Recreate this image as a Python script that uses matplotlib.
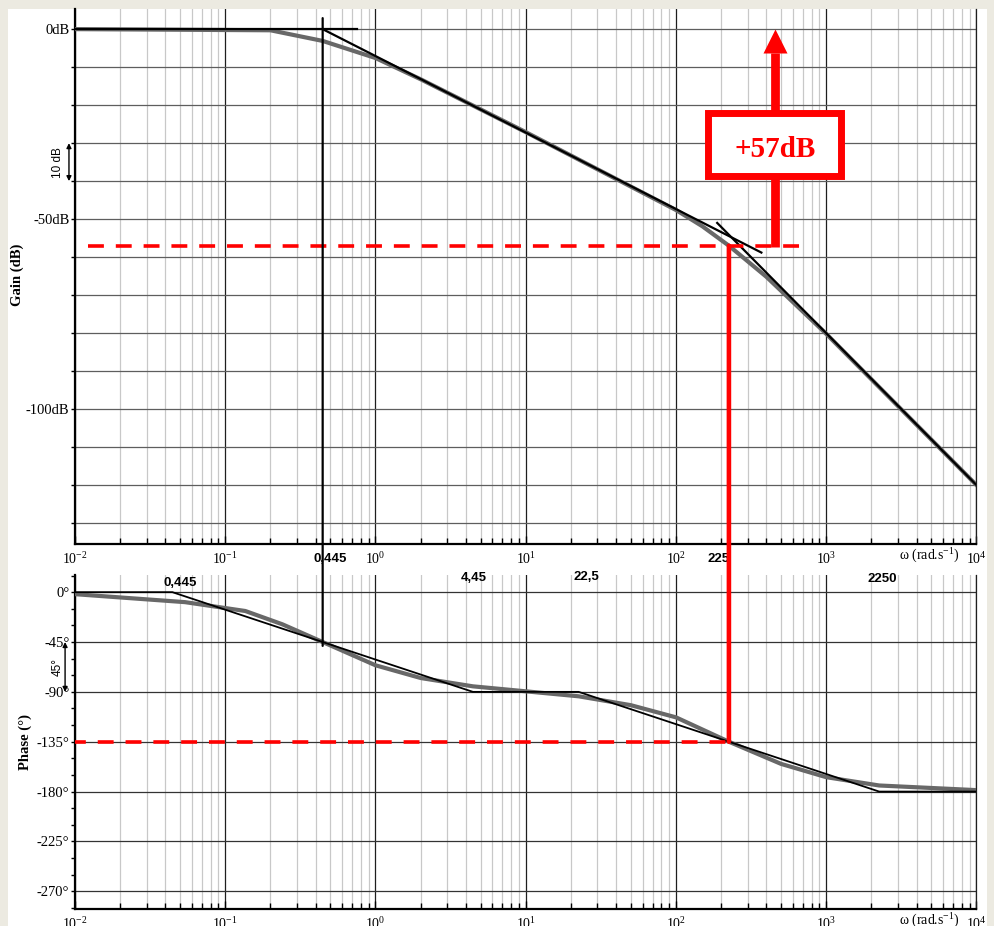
"""Bode plot (gain + phase) of a two-pole system with asymptotes and the
+57 dB gain correction needed at the -135 deg crossover."""
import numpy as np
import matplotlib
matplotlib.use("Agg")
import matplotlib.pyplot as plt
from matplotlib.patches import Rectangle, ConnectionPatch
from matplotlib.ticker import (LogLocator, NullFormatter, MultipleLocator,
                               FixedLocator, FuncFormatter)

plt.rcParams.update({
    "font.family": "Liberation Serif",
    "mathtext.fontset": "custom",
    "mathtext.rm": "Liberation Serif",
    "mathtext.it": "Liberation Serif:italic",
    "mathtext.default": "regular",
})

# real gain curve (rad/s, dB)
W_GAIN = [0.01, 0.2, 0.445, 1, 2, 10, 100, 150, 225, 400, 1000, 10000]
GAIN_DB = [0, -0.3, -3.1, -7.6, -13.2, -27.1, -47.6, -51.9, -57, -65.2, -80.2, -120]

# gain asymptote segments (each drawn a bit past its corner)
GAIN_ASYM_W = [[0.01, 0.755], [0.445, 370], [188, 10000]]
GAIN_ASYM_DB = [[0, 0], [0, -58.8], [-51.0, -120.0]]

# real phase curve (rad/s, deg)
W_PHASE = [0.01, 0.054, 0.136, 0.24, 0.445, 1, 2, 4.45, 10, 22.5, 50, 100,
           225, 500, 1000, 2250, 10000]
PHASE_DEG = [-1.8, -9, -17, -29, -45, -66, -77.5, -85, -89.5, -94, -102, -113,
             -135, -155, -167, -174.5, -178.7]

# phase asymptote
PH_ASYM_W = [0.01, 0.0445, 4.45, 22.5, 2250, 10000]
PH_ASYM_DEG = [0, 0, -90, -90, -180, -180]

# corner frequency and -135 deg crossover
W_CORNER = 0.445
W_CROSS = 225
GAIN_CROSS = -57
PHASE_CROSS = -135

# corner labels: text, omega, phase-axis height
CORNER_LABELS = ["0,445", "4,45", "22,5", "2250", "0,445", "225"]
CORNER_LABEL_W = [0.05, 4.54, 25.3, 2366, 0.499, 191]
CORNER_LABEL_Y = [8.1, 12.6, 13.5, 11.7, 29.7, 29.7]

RED = "#ff0000"
GREY = "#686868"
SANS = "Liberation Sans"
DASH_LW = 2.6
DASHES = (4.4, 3.3)

fig = plt.figure(figsize=(9.95, 9.26), dpi=100, facecolor="#ECEAE1")
fig.add_artist(Rectangle((8 / 995, 0), 979 / 995, 917 / 926,
                         transform=fig.transFigure, facecolor="white",
                         edgecolor="none", zorder=-10))

ax_g = fig.add_axes([75 / 995, 382 / 926, 901.5 / 995, 535 / 926])
ax_p = fig.add_axes([75 / 995, 17 / 926, 901.5 / 995, 334 / 926])


def style_axes(ax):
    ax.set_xscale("log")
    ax.set_xlim(1e-2, 1e4)
    ax.xaxis.set_major_locator(LogLocator(base=10, numticks=12))
    ax.xaxis.set_minor_locator(LogLocator(base=10, subs=np.arange(2, 10), numticks=100))
    ax.xaxis.set_minor_formatter(NullFormatter())
    ax.tick_params(axis="x", which="both", direction="in", labelsize=10, pad=5)
    ax.tick_params(axis="x", which="major", length=6, width=1)
    ax.tick_params(axis="x", which="minor", length=4, width=1)
    ax.tick_params(axis="y", which="both", direction="out", length=3, width=1,
                   pad=1, labelsize=10.5)
    ax.grid(which="major", axis="x", color="#1e1e1e", lw=0.9)
    ax.grid(which="minor", axis="x", color="#c8c8c8", lw=0.9)
    ax.spines["top"].set_visible(False)
    ax.spines["right"].set_linewidth(0.9)
    ax.spines["right"].set_color("#1e1e1e")
    for s in ("left", "bottom"):
        ax.spines[s].set_linewidth(1.6)
    ax.set_axisbelow(True)
    ax.text(0.948, -0.0224 if ax is ax_g else -0.036, "ω (rad.s$^{-1}$)",
            transform=ax.transAxes, ha="center", va="center", fontsize=10)


style_axes(ax_g)
style_axes(ax_p)

# --- gain ---
ax_g.set_ylim(-135.5, 5.3)
ax_g.yaxis.set_major_locator(FixedLocator([0, -50, -100]))
ax_g.yaxis.set_minor_locator(MultipleLocator(10))
ax_g.yaxis.set_major_formatter(FuncFormatter(lambda v, _: f"{int(round(v))}dB"))
ax_g.grid(which="both", axis="y", color="#5e5e5e", lw=0.9)
ax_g.set_ylabel("Gain (dB)", fontweight="bold", fontsize=10.5)
ax_g.yaxis.set_label_coords(-0.057, 0.503)

ax_g.plot(W_GAIN, GAIN_DB, color=GREY, lw=3, solid_joinstyle="round", zorder=3)
for ws, gs in zip(GAIN_ASYM_W, GAIN_ASYM_DB):
    ax_g.plot(ws, gs, color="k", lw=1.6, zorder=4)

# 10 dB scale marker
ytr = ax_g.get_yaxis_transform()
ax_g.annotate("", xy=(-0.0067, -40), xytext=(-0.0067, -30), xycoords=ytr,
              textcoords=ytr, annotation_clip=False,
              arrowprops=dict(arrowstyle="<|-|>", color="k", lw=1,
                              mutation_scale=7, shrinkA=0, shrinkB=0))
ax_g.text(-0.019, -35, "10 dB", transform=ytr, rotation=90, ha="center",
          va="center", fontsize=8.5, family=SANS)

# gain level at the crossover and the correction arrow
ax_g.plot([0.0122, 727], [GAIN_CROSS, GAIN_CROSS], color=RED, lw=DASH_LW,
          dashes=DASHES, zorder=5)
W_ARROW = 458
ax_g.plot([W_ARROW, W_ARROW], [GAIN_CROSS - 0.4, -6.3], color=RED, lw=6.3,
          solid_capstyle="butt", zorder=6)
ax_g.plot([W_ARROW], [-3.0], marker="^", ms=17, color=RED, mec="none", zorder=7)
ax_g.add_patch(Rectangle((163, -38.55), 1252 - 163, 16.35, facecolor="white",
                         edgecolor=RED, lw=5, zorder=7))
ax_g.text(455, -33.7, f"+{abs(GAIN_CROSS)}dB", color=RED, fontsize=21,
          fontweight="bold", ha="center", va="baseline", zorder=8)

# --- phase ---
ax_p.set_ylim(-286, 15.5)
ax_p.yaxis.set_major_locator(MultipleLocator(45))
ax_p.yaxis.set_minor_locator(MultipleLocator(15))
ax_p.yaxis.set_major_formatter(FuncFormatter(lambda v, _: f"{int(round(v))}°"))
ax_p.grid(which="major", axis="y", color="#333333", lw=0.9)
ax_p.set_ylabel("Phase (°)", fontweight="bold", fontsize=10.5)
ax_p.yaxis.set_label_coords(-0.048, 0.5)

ax_p.plot(W_PHASE, PHASE_DEG, color=GREY, lw=3, solid_joinstyle="round", zorder=3)
ax_p.plot(PH_ASYM_W, PH_ASYM_DEG, color="k", lw=1.3, zorder=4)

ytr_p = ax_p.get_yaxis_transform()
ax_p.annotate("", xy=(-0.011, -90), xytext=(-0.011, -45), xycoords=ytr_p,
              textcoords=ytr_p, annotation_clip=False,
              arrowprops=dict(arrowstyle="<|-|>", color="k", lw=1,
                              mutation_scale=7, shrinkA=0, shrinkB=0))
ax_p.text(-0.019, -67.5, "45°", transform=ytr_p, rotation=90, ha="center",
          va="center", fontsize=8.5, family=SANS)

ax_p.plot([0.01, W_CROSS], [PHASE_CROSS, PHASE_CROSS], color=RED, lw=DASH_LW,
          linestyle=(1.4, DASHES), zorder=5)

for txt, w, y in zip(CORNER_LABELS, CORNER_LABEL_W, CORNER_LABEL_Y):
    ax_p.text(w, y, txt, ha="center", va="center", fontsize=9.5,
              fontweight="bold", family=SANS, clip_on=False, zorder=6)

# vertical guides running across both panels
fig.add_artist(ConnectionPatch(xyA=(W_CORNER, 2.9), coordsA="data", axesA=ax_g,
                               xyB=(W_CORNER, -48.5), coordsB="data", axesB=ax_p,
                               color="k", lw=1.6))
fig.add_artist(ConnectionPatch(xyA=(W_CROSS, GAIN_CROSS), coordsA="data", axesA=ax_g,
                               xyB=(W_CROSS, PHASE_CROSS), coordsB="data", axesB=ax_p,
                               color=RED, lw=3.3, zorder=3))

fig.savefig("out.png", dpi=100, facecolor=fig.get_facecolor())
